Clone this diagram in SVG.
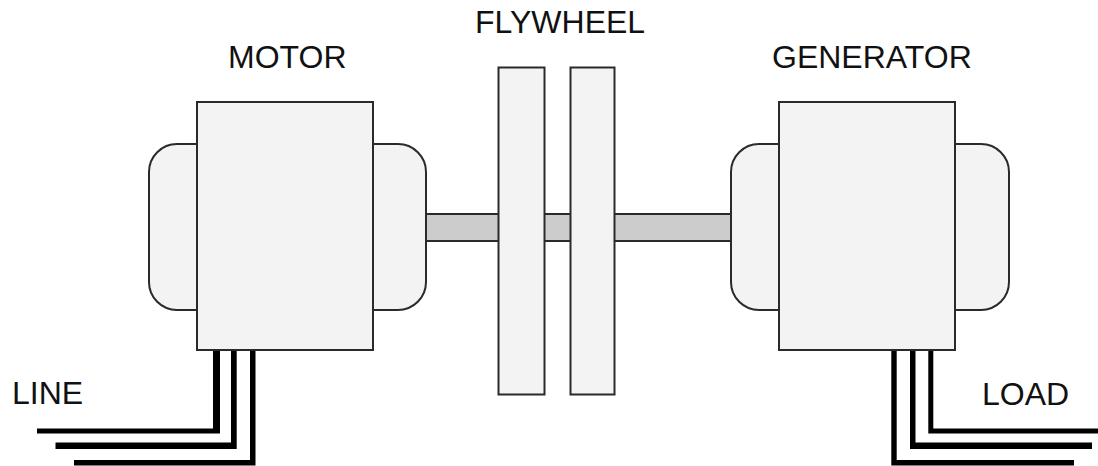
<svg xmlns="http://www.w3.org/2000/svg" width="1098" height="466" viewBox="0 0 1098 466">
<style>
.b{fill:#f3f3f3;stroke:#2a2a2a;stroke-width:2}
.s{fill:#cccccc;stroke:#2a2a2a;stroke-width:2}
.w{fill:#000;stroke:none}
text{font-family:"Liberation Sans",Arial,sans-serif;font-size:32px;fill:#111}
</style>
<rect width="1098" height="466" fill="#fff"/>
<g id="shaft"><rect class="s" x="420" y="214" width="320" height="27"/></g>
<g id="connectors">
<path class="w" d="M213 350H220V433.500H37V428.500H213Z"/>
<path class="w" d="M231 350H236.700V449H55.500V442.500H231Z"/>
<path class="w" d="M250 350H255.500V465.500H74V460H250Z"/>
<path class="w" d="M891.300 350H896.700V460H1074V465.500H891.300Z"/>
<path class="w" d="M910 350H915.500V442.500H1092V449H910Z"/>
<path class="w" d="M928.300 350H933.300V428.500H1098V433.500H928.300Z"/>
</g>
<g id="motor">
<path class="b" d="M197 144H177A28 28 0 0 0 149 172V282A28 28 0 0 0 177 310H197Z"/>
<path class="b" d="M373 144H398A28 28 0 0 1 426 172V282A28 28 0 0 1 398 310H373Z"/>
<rect class="b" x="197" y="102" width="176" height="248"/>
<text x="228" y="68">MOTOR</text>
</g>
<g id="flywheel">
<rect class="b" x="498.500" y="67.500" width="46" height="327"/>
<rect class="b" x="570.500" y="67.500" width="44" height="327"/>
<text x="475" y="33">FLYWHEEL</text>
</g>
<g id="generator">
<path class="b" d="M779 144H759A28 28 0 0 0 731 172V282A28 28 0 0 0 759 310H779Z"/>
<path class="b" d="M955 144H981A28 28 0 0 1 1009 172V282A28 28 0 0 1 981 310H955Z"/>
<rect class="b" x="779" y="102" width="176" height="248"/>
<text x="772" y="68">GENERATOR</text>
</g>
<g id="line"><text x="12" y="404">LINE</text></g>
<g id="load"><text x="982" y="405">LOAD</text></g>
</svg>
